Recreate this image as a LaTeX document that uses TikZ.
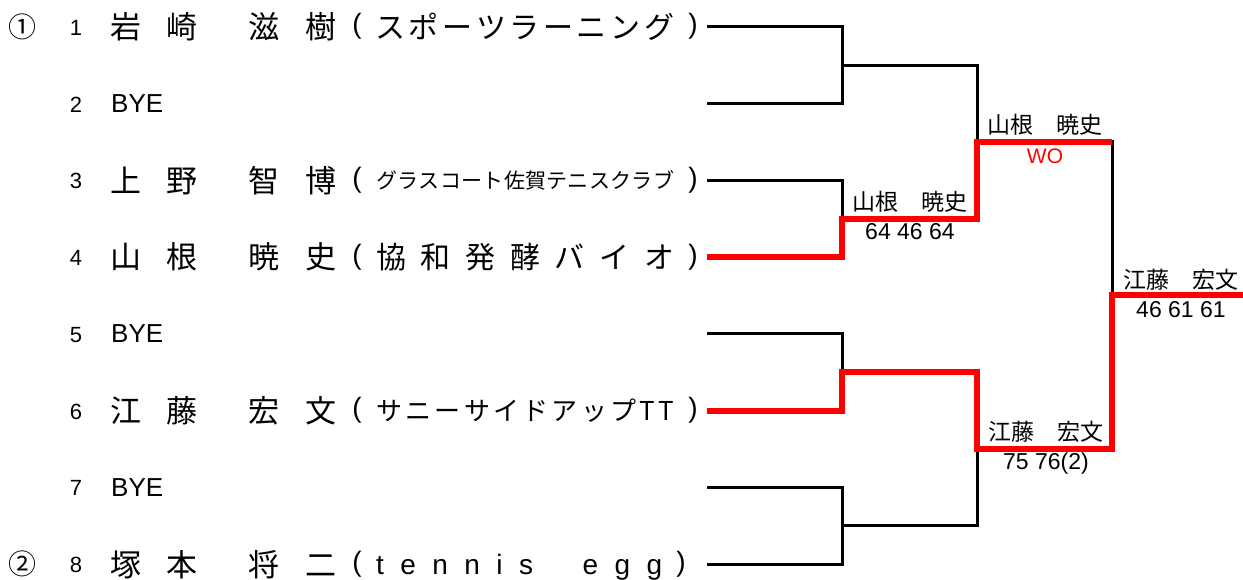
\documentclass[tikz,border=0pt]{standalone}
\usepackage{fontspec}
\setmainfont{Liberation Sans}
\newfontfamily\jp{Noto Sans CJK JP}
\usetikzlibrary{positioning}

% letters of #2 spread evenly over a box #1 wide
\def\blankcell{}
\def\spreadloop#1{\ifx#1\relax\else\hfill#1\expandafter\spreadloop\fi}
\newcommand{\spreadbox}[2]{\makebox[#1][s]{\hskip 0pt plus -1fill\spreadloop#2\relax}}

\begin{document}
\begin{tikzpicture}[x=1pt, y=-1pt, node distance=10pt]
    \tikzstyle{seed}=[font=\jp\fontsize{28}{28}\selectfont, inner sep=0]
    \tikzstyle{num}=[font=\fontsize{22}{22}\selectfont, inner sep=0]
    \tikzstyle{player}=[anchor=west, font=\jp\fontsize{31}{31}\selectfont, inner sep=0]
    \tikzstyle{bye}=[anchor=west, font=\fontsize{26}{26}\selectfont, inner sep=0]
    \tikzstyle{club}=[anchor=west, font=\jp\fontsize{30}{30}\selectfont, inner sep=0]
    \tikzstyle{paren}=[font=\fontsize{28}{28}\selectfont, inner sep=0]
    \tikzstyle{winner}=[font=\jp\fontsize{23}{23}\selectfont, inner sep=0]
    \tikzstyle{score}=[font=\fontsize{23}{23}\selectfont, inner sep=0]
    \tikzstyle{bracket}=[line width=3pt]
    \tikzstyle{winpath}=[line width=6pt, red]

    \useasboundingbox (0,0) rectangle (1243,579);

    % seeds, draw numbers and line ends
    \node[seed] (seed1) at (23,26.6) {①};
    \node[seed] (seed2) at (23,564.2) {②};
    \foreach \i/\y in {1/26.6,2/103.4,3/180.2,4/257,5/333.8,6/410.6,7/487.4,8/564.2}{
        \node[num] (num\i) at (76,\y+1) {\i};
        \coordinate (p\i) at (707,\y);
    }

    % players
    \node[player]   (iwasaki)   at (110,26.6)   {\spreadbox{226pt}{岩崎\blankcell 滋樹}};
    \node[bye]      (bye2)      at (111,103.4)  {BYE};
    \node[player]   (ueno)      at (110,180.2)  {\spreadbox{226pt}{上野\blankcell 智博}};
    \node[player]   (yamane)    at (110,257)    {\spreadbox{226pt}{山根\blankcell 暁史}};
    \node[bye]      (bye5)      at (111,333.8)  {BYE};
    \node[player]   (eto)       at (110,410.6)  {\spreadbox{226pt}{江藤\blankcell 宏文}};
    \node[bye]      (bye7)      at (111,487.4)  {BYE};
    \node[player]   (tsukamoto) at (110,564.2)  {\spreadbox{226pt}{塚本\blankcell 将二}};

    % clubs
    \foreach \i/\y in {1/26.6,3/180.2,4/257,6/410.6,8/564.2}
        \node[paren] (lp\i) at (357,\y) {(};
    \foreach \i/\y in {1/26.6,3/180.2,4/257,6/410.6}
        \node[paren] (rp\i) at (693,\y) {)};
    \node[paren] (rp8) at (681,564.2) {)};
    \node[club] (club1) at (375,26.6) {\spreadbox{299pt}{スポーツラーニング}};
    \node[club, font=\jp\fontsize{21}{21}\selectfont] (club3) at (376,180.2) {\spreadbox{298pt}{グラスコート佐賀テニスクラブ}};
    \node[club] (club4) at (376,257) {\spreadbox{298pt}{協和発酵バイオ}};
    \node[club, font=\jp\fontsize{26}{26}\selectfont] (club6) at (376,410.6) {\spreadbox{298pt}{サニーサイドアップTT}};
    \node[club, font=\fontsize{28}{28}\selectfont] (club8) at (376,567) {\spreadbox{286pt}{tennis\blankcell\blankcell egg}};

    % bracket
    \coordinate (a1) at (842,65);
    \coordinate (a2) at (842,218.6);
    \coordinate (a3) at (842,372.2);
    \coordinate (a4) at (842,525.8);
    \coordinate (b1) at (977,141.8);
    \coordinate (b2) at (977,449);
    \coordinate (c)  at (1112,295.4);
    \coordinate (e)  at (1243,295.4);

    \draw[bracket] (p1) -| (a1) |- (p2);
    \draw[bracket] (a1) -| (b1) -| (c);
    \draw[bracket] (p3) -| (a2);
    \draw[bracket] (p5) -| (a3);
    \draw[bracket] (p7) -| (a4) |- (p8);
    \draw[bracket] (a4) -| (b2);
    \draw[winpath] (p4) -| (a2) -| (b1) -- (b1 -| c);
    \draw[winpath] (p6) -| (a3) -| (b2) -| (c) -- (e);

    % results
    \node[winner]   (yamane1)   at (910,202)    {山根　暁史};
    \node[score]    (score1)    [below=of yamane1]  {64 46 64};
    \node[winner]   (yamane2)   at (1045,124.5) {山根　暁史};
    \node[score, red, font=\fontsize{21}{21}\selectfont] (score2) [below=13pt of yamane2] {WO};
    \node[winner]   (eto2)      at (1046,432)   {江藤　宏文};
    \node[score]    (score3)    [below=of eto2]     {75 76(2)};
    \node[winner]   (eto3)      at (1181,280)   {江藤　宏文};
    \node[score]    (score4)    [below=of eto3]     {46 61 61};
\end{tikzpicture}
\end{document}
